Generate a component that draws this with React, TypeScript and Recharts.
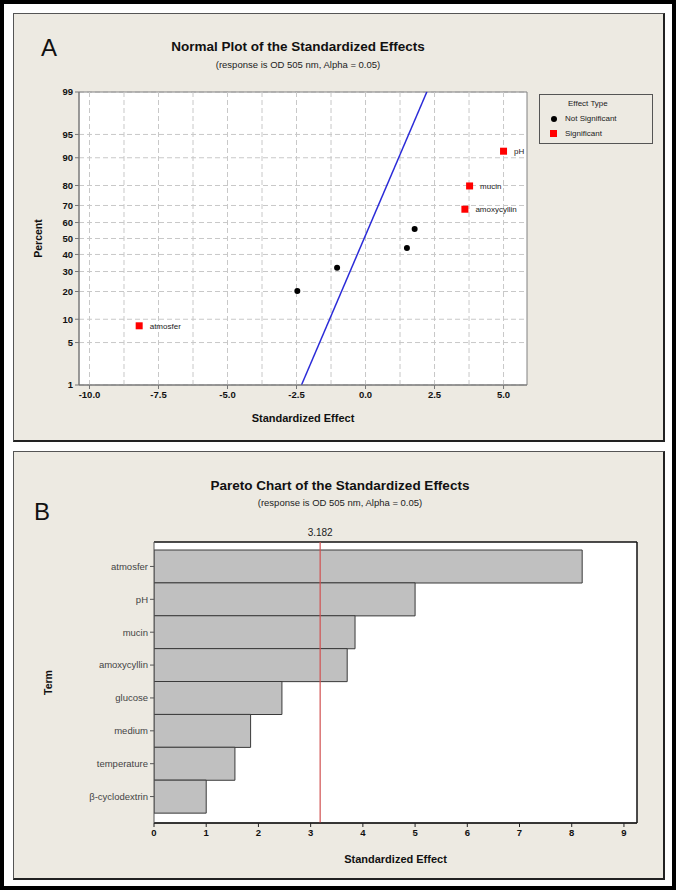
import React from 'react';
import {
  ScatterChart, Scatter, BarChart, Bar, XAxis, YAxis, CartesianGrid,
  ReferenceLine, ReferenceArea, LabelList, Label,
} from 'recharts';

// ---------- data ----------
const paretoTerms = ['atmosfer', 'pH', 'mucin', 'amoxycyllin', 'glucose', 'medium', 'temperature', 'β-cyclodextrin'];
const paretoEffects = [8.2, 5.0, 3.85, 3.7, 2.45, 1.85, 1.55, 1.0];
const criticalValue = 3.182;
const paretoTicks = [0, 1, 2, 3, 4, 5, 6, 7, 8, 9];

const normalTerms = ['atmosfer', 'glucose', 'β-cyclodextrin', 'temperature', 'medium', 'amoxycyllin', 'mucin', 'pH'];
const normalEffects = [-8.2, -2.47, -1.03, 1.5, 1.78, 3.6, 3.77, 5.0];
const normalPercent = [8.3, 20.2, 32.1, 44.0, 56.0, 67.9, 79.8, 91.7];
const normalSignificant = [true, false, false, false, false, true, true, true];
const percentTicks = [1, 5, 10, 20, 30, 40, 50, 60, 70, 80, 90, 95, 99];
const effectTicksA = [-10, -7.5, -5, -2.5, 0, 2.5, 5];
const effectGridA = [-10, -8.75, -7.5, -6.25, -5, -3.75, -2.5, -1.25, 0, 1.25, 2.5, 3.75, 5];
const fitLineEffect = [-2.32, 2.22];
const fitLinePercent = [1, 99];

// ---------- helpers ----------
function probit(p: number): number {
  const a = [-3.969683028665376e1, 2.209460984245205e2, -2.759285104469687e2, 1.38357751867269e2, -3.066479806614716e1, 2.506628277459239];
  const b = [-5.447609879822406e1, 1.615585380325908e2, -1.556989798598866e2, 6.680131188771972e1, -1.328068155288572e1];
  const c = [-7.784894002430293e-3, -3.223964580411365e-1, -2.400758277161838, -2.549732539343734, 4.374664141464968, 2.938163982698783];
  const d = [7.784695709041462e-3, 3.224671290700398e-1, 2.445134137142996, 3.754408661907416];
  const pl = 0.02425;
  if (p < pl) {
    const q = Math.sqrt(-2 * Math.log(p));
    return (((((c[0] * q + c[1]) * q + c[2]) * q + c[3]) * q + c[4]) * q + c[5]) / ((((d[0] * q + d[1]) * q + d[2]) * q + d[3]) * q + 1);
  }
  if (p <= 1 - pl) {
    const q = p - 0.5;
    const r = q * q;
    return ((((((a[0] * r + a[1]) * r + a[2]) * r + a[3]) * r + a[4]) * r + a[5]) * q) / (((((b[0] * r + b[1]) * r + b[2]) * r + b[3]) * r + b[4]) * r + 1);
  }
  const q = Math.sqrt(-2 * Math.log(1 - p));
  return -(((((c[0] * q + c[1]) * q + c[2]) * q + c[3]) * q + c[4]) * q + c[5]) / ((((d[0] * q + d[1]) * q + d[2]) * q + d[3]) * q + 1);
}

const zTicks = percentTicks.map((p) => probit(p / 100));
const zMin = zTicks[0];
const zMax = zTicks[zTicks.length - 1];
const xMinA = -10.38;
const xMaxA = 5.85;
const xMaxB = 9.25;

const normalPoints = normalTerms.map((name, i) => ({
  name,
  x: normalEffects[i],
  y: probit(normalPercent[i] / 100),
  sig: normalSignificant[i],
}));
const sigPoints = normalPoints.filter((p) => p.sig);
const nonSigPoints = normalPoints.filter((p) => !p.sig);

const paretoData = paretoTerms.map((term, i) => ({ term, effect: paretoEffects[i] }));

const FONT = '"Liberation Sans", Arial, sans-serif';
const PANEL_BG = '#edeae2';

const pctLabel = (v: number) => {
  let best = 0;
  zTicks.forEach((z, i) => {
    if (Math.abs(z - v) < Math.abs(zTicks[best] - v)) best = i;
  });
  return String(percentTicks[best]);
};

const Square = (props: any) => {
  const { cx, cy } = props;
  return <rect x={cx - 3.5} y={cy - 3.5} width={7} height={7} fill="#ff0000" />;
};
const Dot = (props: any) => {
  const { cx, cy } = props;
  return <circle cx={cx} cy={cy} r={3} fill="#000" />;
};

// frame lines at the edges of the plot area (taken from the chart's own layout offset)
const frameHorizontal = (props: any) => {
  const o = props && props.offset;
  return o ? [o.top, o.top + o.height] : [];
};
const frameVertical = (props: any) => {
  const o = props && props.offset;
  return o ? [o.left + o.width] : [];
};

const panelStyle = (top: number): React.CSSProperties => ({
  position: 'absolute',
  left: 9,
  top,
  width: 652,
  height: 429,
  boxSizing: 'border-box',
  background: PANEL_BG,
  borderTop: '1px solid #555',
  borderLeft: '1px solid #555',
  borderRight: '2px solid #222',
  borderBottom: '2px solid #222',
  fontFamily: FONT,
});

const tickStyleBold = { fontSize: 9.5, fontWeight: 700, fill: '#111', fontFamily: FONT };

export default function App() {
  return (
    <div
      style={{
        position: 'absolute',
        left: 0,
        top: 0,
        width: 676,
        height: 890,
        boxSizing: 'border-box',
        border: '4px solid #000',
        background: '#fff',
        fontFamily: FONT,
      }}
    >
      {/* Panel A */}
      <div style={panelStyle(9)}>
        <div style={{ position: 'absolute', left: 27, top: 20, fontSize: 24, color: '#111' }}>A</div>
        <div style={{ position: 'absolute', left: 84, width: 400, top: 25, textAlign: 'center', fontSize: 13.5, fontWeight: 700, color: '#111' }}>
          Normal Plot of the Standardized Effects
        </div>
        <div style={{ position: 'absolute', left: 84, width: 400, top: 45, textAlign: 'center', fontSize: 9.5, color: '#222' }}>
          (response is OD 505 nm, Alpha = 0.05)
        </div>
        <div
          style={{
            position: 'absolute', left: 525, top: 80, width: 114, height: 50, boxSizing: 'border-box',
            border: '1px solid #555', fontSize: 8, color: '#222', lineHeight: '15px',
          }}
        >
          <div style={{ paddingLeft: 28, marginTop: 1 }}>Effect Type</div>
          <div style={{ display: 'flex', alignItems: 'center' }}>
            <span style={{ display: 'inline-block', width: 6, height: 6, borderRadius: 3, background: '#000', marginLeft: 11, marginRight: 8 }} />
            Not Significant
          </div>
          <div style={{ display: 'flex', alignItems: 'center' }}>
            <span style={{ display: 'inline-block', width: 7, height: 7, background: '#ff0000', marginLeft: 10, marginRight: 8 }} />
            Significant
          </div>
        </div>
        <div style={{ position: 'absolute', left: 0, top: 0 }}>
          <ScatterChart width={650} height={427} margin={{ top: 78, right: 137, bottom: 8, left: 0 }}>
            <CartesianGrid fill="#fff" vertical={false} stroke="#c8c8c8" strokeDasharray="5 3" />
            <XAxis
              type="number"
              dataKey="x"
              domain={[xMinA, xMaxA]}
              ticks={effectTicksA}
              allowDataOverflow
              tickFormatter={(v: number) => v.toFixed(1)}
              height={48}
              tickSize={4}
              stroke="#777"
              tick={tickStyleBold}
              interval={0}
            >
              <Label value="Standardized Effect" position="insideBottom" offset={11} style={{ fontSize: 11, fontWeight: 700, fill: '#111', fontFamily: FONT }} />
            </XAxis>
            <YAxis
              type="number"
              dataKey="y"
              domain={[zMin, zMax]}
              ticks={zTicks}
              allowDataOverflow
              tickFormatter={pctLabel}
              width={65}
              tickSize={4}
              stroke="#777"
              tick={tickStyleBold}
              interval={0}
            >
              <Label value="Percent" angle={-90} position="insideLeft" offset={24} style={{ fontSize: 10.5, fontWeight: 700, fill: '#111', fontFamily: FONT, textAnchor: 'middle' }} />
            </YAxis>
            {effectGridA.map((v) => (
              <ReferenceLine key={v} x={v} stroke="#c8c8c8" strokeDasharray="5 3" />
            ))}
            <ReferenceArea x1={xMinA} x2={xMaxA} y1={zMin} y2={zMax} fill="none" stroke="#808080" ifOverflow="visible" />
            <ReferenceLine
              segment={[
                { x: fitLineEffect[0], y: probit(fitLinePercent[0] / 100) },
                { x: fitLineEffect[1], y: probit(fitLinePercent[1] / 100) },
              ]}
              stroke="#2b2bd8"
              strokeWidth={1.5}
              ifOverflow="visible"
            />
            <Scatter data={nonSigPoints} shape={Dot} isAnimationActive={false} />
            <Scatter data={sigPoints} shape={Square} isAnimationActive={false}>
              <LabelList dataKey="name" position="right" offset={6} style={{ fontSize: 8, fill: '#222', fontFamily: FONT }} />
            </Scatter>
          </ScatterChart>
        </div>
      </div>

      {/* Panel B */}
      <div style={panelStyle(447)}>
        <div style={{ position: 'absolute', left: 20, top: 46, fontSize: 24, color: '#111' }}>B</div>
        <div style={{ position: 'absolute', left: 126, width: 400, top: 26, textAlign: 'center', fontSize: 13.5, fontWeight: 700, color: '#111' }}>
          Pareto Chart of the Standardized Effects
        </div>
        <div style={{ position: 'absolute', left: 126, width: 400, top: 45, textAlign: 'center', fontSize: 9.5, color: '#222' }}>
          (response is OD 505 nm, Alpha = 0.05)
        </div>
        <div style={{ position: 'absolute', left: 0, top: 0 }}>
          <BarChart
            layout="vertical"
            width={650}
            height={427}
            data={paretoData}
            margin={{ top: 90, right: 27, bottom: 8, left: 0 }}
            barCategoryGap={0}
          >
            <CartesianGrid
              fill="#fff"
              stroke="#111"
              strokeWidth={1.5}
              horizontalCoordinatesGenerator={frameHorizontal}
              verticalCoordinatesGenerator={frameVertical}
            />
            <XAxis
              type="number"
              domain={[0, xMaxB]}
              ticks={paretoTicks}
              allowDataOverflow
              height={48}
              tickSize={4}
              stroke="#222"
              tick={tickStyleBold}
              interval={0}
            >
              <Label value="Standardized Effect" position="insideBottom" offset={8} style={{ fontSize: 11, fontWeight: 700, fill: '#111', fontFamily: FONT }} />
            </XAxis>
            <YAxis
              type="category"
              dataKey="term"
              width={140}
              padding={{ top: 8, bottom: 10 }}
              tickSize={4}
              stroke="#555"
              tick={{ fontSize: 9.5, fill: '#444', fontFamily: FONT }}
              interval={0}
            >
              <Label value="Term" angle={-90} position="insideLeft" offset={34} style={{ fontSize: 10.5, fontWeight: 700, fill: '#111', fontFamily: FONT, textAnchor: 'middle' }} />
            </YAxis>
            <Bar dataKey="effect" fill="#c0c0c0" stroke="#3a3a3a" strokeWidth={1} isAnimationActive={false} />
            <ReferenceLine
              x={criticalValue}
              stroke="#d05050"
              strokeWidth={1.2}
              label={{ value: String(criticalValue), position: 'top', offset: 6, style: { fontSize: 10, fill: '#222', fontFamily: FONT } }}
            />
          </BarChart>
        </div>
      </div>
    </div>
  );
}
